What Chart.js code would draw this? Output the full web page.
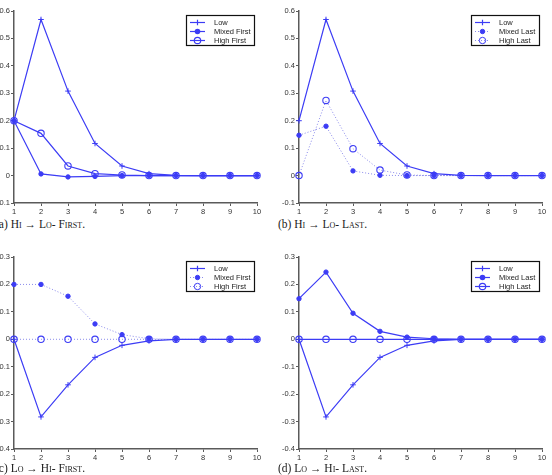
<!DOCTYPE html>
<html>
<head>
<meta charset="utf-8">
<script src="https://cdn.jsdelivr.net/npm/chart.js@4"></script>
<style>
  html, body { margin: 0; padding: 0; background: #fff; }
  body { width: 552px; height: 475px; position: relative; overflow: hidden; }
  .panel { position: absolute; }
  .cap { position: absolute; font-family: 'Liberation Serif', 'DejaVu Serif', serif; font-size: 11.5px; color: #1a1a1a; white-space: nowrap; }
  .sc { font-variant: small-caps; }
</style>
</head>
<body>
<div class="panel" style="left:0;top:0;width:276px;height:217px"><canvas id="ca"></canvas></div>
<div class="panel" style="left:276px;top:0;width:276px;height:217px"><canvas id="cb"></canvas></div>
<div class="panel" style="left:0;top:237px;width:276px;height:226px"><canvas id="cc"></canvas></div>
<div class="panel" style="left:276px;top:237px;width:276px;height:226px"><canvas id="cd"></canvas></div>

<div class="cap" style="left:-5px;top:218px">(a) H<span class="sc">i</span> → L<span class="sc">o</span>- F<span class="sc">irst</span>.</div>
<div class="cap" style="left:278px;top:218px">(b) H<span class="sc">i</span> → L<span class="sc">o</span>- L<span class="sc">ast</span>.</div>
<div class="cap" style="left:-5px;top:462px">(c) L<span class="sc">o</span> → H<span class="sc">i</span>- F<span class="sc">irst</span>.</div>
<div class="cap" style="left:278px;top:462px">(d) L<span class="sc">o</span> → H<span class="sc">i</span>- L<span class="sc">ast</span>.</div>

<script>
// periods on the x axis
const periods = ['1', '2', '3', '4', '5', '6', '7', '8', '9', '10']

// (a) Hi -> Lo, First
const hiLoLow = [0.2, 0.569, 0.308, 0.117, 0.035, 0.007, 0.001, 0, 0, 0]
const hiLoMixedFirst = [0.2, 0.006, -0.005, -0.003, 0, 0, 0, 0, 0, 0]
const hiLoHighFirst = [0.2, 0.154, 0.035, 0.007, 0.002, 0, 0, 0, 0, 0]

// (b) Hi -> Lo, Last
const hiLoMixedLast = [0.147, 0.18, 0.017, 0.001, 0, 0, 0, 0, 0, 0]
const hiLoHighLast = [0, 0.274, 0.098, 0.02, 0.002, 0, 0, 0, 0, 0]

// (c) Lo -> Hi, First
const loHiLow = [0, -0.283, -0.166, -0.066, -0.022, -0.006, 0, 0, 0, 0]
const loHiMixedFirst = [0.2, 0.2, 0.157, 0.056, 0.017, 0.002, 0, 0, 0, 0]
const loHiHighFirst = [0, 0, 0, 0, 0, 0, 0, 0, 0, 0]

// (d) Lo -> Hi, Last
const loHiMixedLast = [0.148, 0.245, 0.095, 0.029, 0.008, 0.002, 0, 0, 0, 0]
const loHiHighLast = [0, 0, 0, 0, 0, 0, 0, 0, 0, 0]

const BLUE = 'rgb(60,60,245)'
const DOT_BLUE = 'rgba(110,110,230,0.8)'
const AXIS = '#5a5a5a'
const TICK_FONT = { family: "'Liberation Sans', Arial, sans-serif", size: 7.5 }

// line + marker styles, matlab-ish
function lowSet(data) {
  return { label: 'Low', data, borderColor: BLUE, borderWidth: 1.2, pointStyle: 'cross',
    pointRadius: 2.8, pointBorderColor: BLUE, pointBorderWidth: 1, tension: 0 }
}
function dotSet(label, data, dotted) {
  return { label, data, borderColor: dotted ? DOT_BLUE : BLUE, borderWidth: dotted ? 1 : 1.2,
    borderDash: dotted ? [1, 2] : [], pointStyle: 'circle', pointRadius: 2.2,
    pointBackgroundColor: BLUE, pointBorderColor: BLUE, pointBorderWidth: 1, tension: 0 }
}
function ringSet(label, data, dotted) {
  return { label, data, borderColor: dotted ? DOT_BLUE : BLUE, borderWidth: dotted ? 1 : 1.2,
    borderDash: dotted ? [1, 2] : [], pointStyle: 'circle', pointRadius: 3.2,
    pointBackgroundColor: 'rgba(0,0,0,0)', pointBorderColor: BLUE, pointBorderWidth: 1.1, tension: 0 }
}

// boxed legend drawn inside the axes, like matlab's
const boxLegend = {
  id: 'boxLegend',
  afterDatasetsDraw(chart, args, opts) {
    const c = chart.ctx
    const { x, y, w, h } = opts
    c.save()
    c.fillStyle = '#fff'
    c.fillRect(x, y, w, h)
    c.strokeStyle = '#111'
    c.lineWidth = 1.2
    c.strokeRect(x + 0.5, y + 0.5, w, h)
    c.font = "7.5px 'Liberation Sans', Arial, sans-serif"
    c.textBaseline = 'middle'
    chart.data.datasets.forEach((ds, i) => {
      const ry = Math.round(y + 6.5 + i * 9) + 0.5
      c.strokeStyle = ds.borderColor
      c.lineWidth = ds.borderWidth
      c.setLineDash(ds.borderDash || [])
      c.beginPath(); c.moveTo(x + 4, ry); c.lineTo(x + 19, ry); c.stroke()
      c.setLineDash([])
      c.strokeStyle = ds.pointBorderColor
      c.fillStyle = ds.pointBackgroundColor || ds.pointBorderColor
      Chart.helpers.drawPoint(c, { pointStyle: ds.pointStyle, radius: ds.pointRadius, borderWidth: 1, rotation: 0 }, x + 11.5, ry)
      c.fillStyle = '#222'
      c.fillText(ds.label, x + 28, ry)
    })
    c.restore()
  }
}

function makeChart(id, datasets, yMin, yMax, yWidth, padRight, padTop, legendPos) {
  new Chart(document.getElementById(id), {
    type: 'line',
    data: { labels: periods, datasets },
    options: {
      responsive: true,
      maintainAspectRatio: false,
      animation: false,
      layout: { padding: { top: padTop, right: padRight, left: 0, bottom: 0 } },
      plugins: {
        legend: { display: false },
        tooltip: { enabled: false },
        boxLegend: legendPos
      },
      scales: {
        x: {
          offset: false,
          grid: { display: true, drawOnChartArea: false, drawTicks: true, tickLength: 3, color: AXIS },
          border: { display: true, color: AXIS, width: 1.5 },
          ticks: { color: '#333', font: TICK_FONT, padding: 1, maxRotation: 0, autoSkip: false },
          afterFit: s => { s.height = 14 }
        },
        y: {
          min: yMin, max: yMax,
          grid: { display: true, drawOnChartArea: false, drawTicks: true, tickLength: 3, color: AXIS },
          border: { display: true, color: AXIS, width: 1.5 },
          ticks: { stepSize: 0.1, color: '#333', font: TICK_FONT, padding: 1,
            callback: v => { const r = Math.round(v * 10) / 10; return r === 0 ? '0' : String(r) } },
          afterFit: s => { s.width = yWidth }
        }
      }
    },
    plugins: [boxLegend]
  })
}

makeChart('ca', [lowSet(hiLoLow), dotSet('Mixed First', hiLoMixedFirst, false), ringSet('High First', hiLoHighFirst, false)],
  -0.1, 0.6, 14, 19, 11, { x: 186, y: 15, w: 68, h: 30 })
makeChart('cb', [lowSet(hiLoLow), dotSet('Mixed Last', hiLoMixedLast, true), ringSet('High Last', hiLoHighLast, true)],
  -0.1, 0.6, 23, 10, 11, { x: 195, y: 15, w: 68, h: 30 })
makeChart('cc', [lowSet(loHiLow), dotSet('Mixed First', loHiMixedFirst, true), ringSet('High First', loHiHighFirst, true)],
  -0.4, 0.3, 14, 19, 20, { x: 186, y: 24, w: 68, h: 30 })
makeChart('cd', [lowSet(loHiLow), dotSet('Mixed Last', loHiMixedLast, false), ringSet('High Last', loHiHighLast, false)],
  -0.4, 0.3, 23, 10, 20, { x: 195, y: 24, w: 68, h: 30 })
</script>
</body>
</html>
